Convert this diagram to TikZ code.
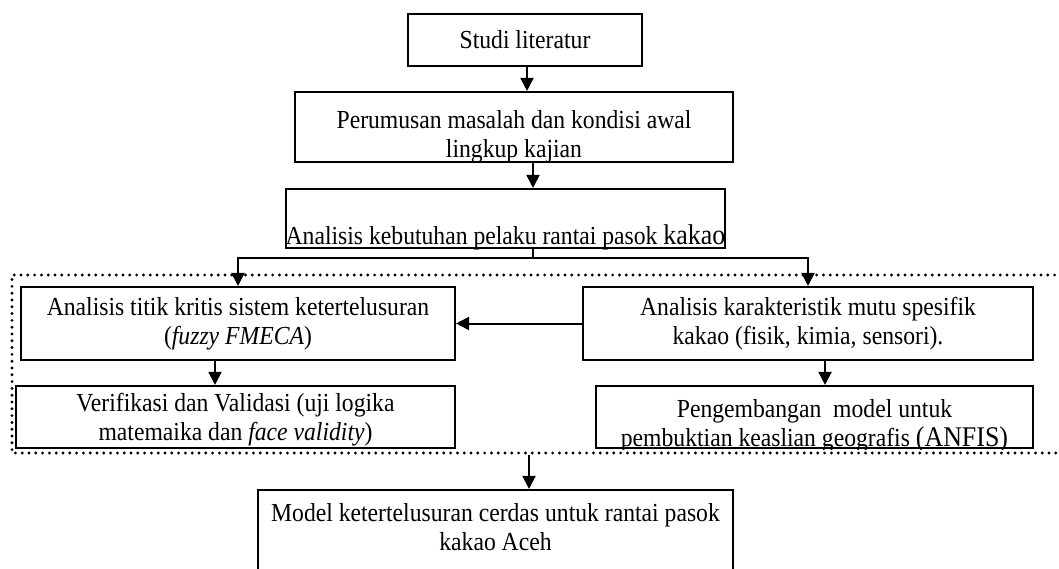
\documentclass[tikz,border=0pt]{standalone}
\usepackage{fontspec}
\setmainfont{Liberation Serif}[FakeStretch=0.91]
\usetikzlibrary{arrows.meta}
\begin{document}
\begin{tikzpicture}[x=1pt,y=-1pt,
  box/.style={draw, line width=2.1pt, inner sep=0pt},
  txt/.style={align=center, font=\fontsize{26}{29}\selectfont, inner sep=0pt},
  big/.style={font=\fontsize{28.5}{32}\selectfont},
  flow/.style={line width=2pt, -{Triangle[length=13pt,width=13pt]}},
  link/.style={line width=2pt},
  frame/.style={line width=3.2pt, dash pattern=on 0pt off 6.8pt, line cap=round}]
\useasboundingbox (0,0) rectangle (1059,569);

% boxes
\node[box, minimum width=234pt, minimum height=52pt] (lit) at (525,40) {};
\node[box, minimum width=438pt, minimum height=70pt] (rum) at (514,127) {};
\node[box, minimum width=439pt, minimum height=59pt] (anal) at (505.5,218.5) {};
\node[box, minimum width=434pt, minimum height=73pt] (kritis) at (238,323.5) {};
\node[box, minimum width=450pt, minimum height=73pt] (mutu) at (808,323.5) {};
\node[box, minimum width=439pt, minimum height=62pt] (verif) at (235.5,417) {};
\node[box, minimum width=437pt, minimum height=62pt] (kembang) at (814.5,417) {};
\node[box, minimum width=475pt, minimum height=120pt] (model) at (495.5,550) {};

% texts (descenders cut by the lower border where the box is tight)
\node[txt] (litT) at (lit) {Studi literatur};
\begin{scope}
  \clip (rum.south west) rectangle (rum.north east);
  \node[txt] (rumT) at (514,137) {Perumusan masalah dan kondisi awal\\lingkup kajian};
\end{scope}
\begin{scope}
  \clip (anal.south west) rectangle (anal.north east);
  \node[txt, anchor=base] (analT) at (505.5,244) {Analisis kebutuhan pelaku rantai pasok {\fontsize{28.5}{32}\selectfont kakao}};
\end{scope}
\node[txt] (kritisT) at (238,324) {Analisis titik kritis sistem ketertelusuran\\(\textit{fuzzy FMECA})};
\node[txt] (mutuT) at (808,324) {Analisis karakteristik mutu spesifik\\kakao (fisik, kimia, sensori).};
\node[txt] (verifT) at (235.5,420) {Verifikasi dan Validasi (uji logika\\matemaika dan \textit{face validity})};
\begin{scope}
  \clip (kembang.south west) rectangle (kembang.north east);
  \node[txt] (kembangT) at (814.5,426) {Pengembangan\ \ model untuk\\pembuktian keaslian geografis {\fontsize{28.5}{32}\selectfont (ANFIS)}};
\end{scope}
\node[txt] (modelT) at (495.5,527) {Model ketertelusuran cerdas untuk rantai pasok\\kakao Aceh};

% dotted frame around the analysis stage
\draw[frame] (1075,275) -- (12,275) -- (12,453) -- (1075,453);

% connectors
\coordinate (split) at (533,258);
\coordinate (fout) at (529,455);
\draw[flow] ([xshift=2pt]lit.south) -- ([xshift=2pt]lit.south |- rum.north);
\draw[flow] ([xshift=19pt]rum.south) -- ([xshift=19pt]rum.south |- anal.north);
\draw[link] ([xshift=27.5pt]anal.south) -- (split);
\draw[flow] (split) -| (kritis.north);
\draw[flow] (split) -| (mutu.north);
\draw[flow] (mutu.west) -- (kritis.east);
\draw[flow] ([xshift=-23pt]kritis.south) -- ([xshift=-23pt]kritis.south |- verif.north);
\draw[flow] ([xshift=17pt]mutu.south) -- ([xshift=17pt]mutu.south |- kembang.north);
\draw[flow] (fout) -- (fout |- model.north);
\end{tikzpicture}
\end{document}
